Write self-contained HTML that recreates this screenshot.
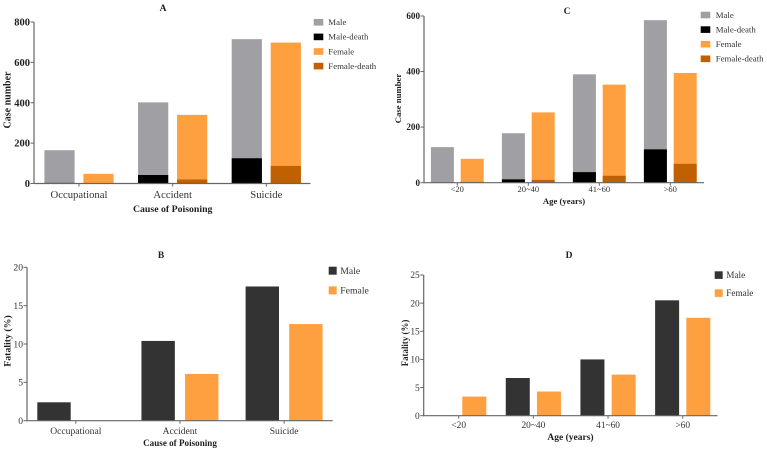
<!DOCTYPE html>
<html lang="en">
<head>
<meta charset="utf-8">
<title>Poisoning case numbers and fatality</title>
<style>
html,body{margin:0;padding:0;background:#fff;width:767px;height:452px;overflow:hidden}
#figure{display:block;filter:blur(0.35px)}
text{font-family:"Liberation Serif","Times New Roman",serif}
</style>
</head>
<body>
<svg id="figure" width="767" height="452" viewBox="0 0 767 452" xmlns="http://www.w3.org/2000/svg"></svg>
<script>
/* Panel A data */
const causeCategories = ['Occupational', 'Accident', 'Suicide'];
const causeCaseTicks = [0, 200, 400, 600, 800];
const causeMaleCases = [165, 402, 715];
const causeMaleDeaths = [3, 42, 125];
const causeFemaleCases = [48, 340, 698];
const causeFemaleDeaths = [1, 20, 87];

/* Panel B data */
const causeFatalityTicks = [0, 5, 10, 15, 20];
const causeMaleFatality = [2.4, 10.4, 17.5];
const causeFemaleFatality = [0, 6.1, 12.6];

/* Panel C data */
const ageCategories = ['<20', '20~40', '41~60', '>60'];
const ageCaseTicks = [0, 200, 400, 600];
const ageMaleCases = [128, 178, 390, 585];
const ageMaleDeaths = [1, 12, 38, 120];
const ageFemaleCases = [86, 253, 353, 395];
const ageFemaleDeaths = [3, 10, 25, 68];

/* Panel D data */
const ageFatalityTicks = [0, 5, 10, 15, 20, 25];
const ageMaleFatality = [0, 6.7, 10, 20.5];
const ageFemaleFatality = [3.4, 4.3, 7.3, 17.4];

const stackedLegend = ['Male', 'Male-death', 'Female', 'Female-death'];
const simpleLegend = ['Male', 'Female'];

const GREY = '#a09fa4', BLACK = '#000000', ORANGE = '#ffa040', BURNT = '#c06000', DARK = '#333333';
const AXIS = '#666666', INK = '#1f1f1f';
const svg = document.getElementById('figure');

function make(tag, attrs, parent, content) {
  const el = document.createElementNS('http://www.w3.org/2000/svg', tag);
  for (const k in attrs) el.setAttribute(k, attrs[k]);
  if (content !== undefined) el.textContent = content;
  parent.appendChild(el);
  return el;
}
function slug(s) {
  return String(s).toLowerCase().replace(/[^a-z0-9]+/g, '-').replace(/^-|-$/g, '');
}
function linear(d0, d1, r0, r1) {
  return v => r0 + (v - d0) * (r1 - r0) / (d1 - d0);
}

function drawPanel(p) {
  const g = make('g', {}, svg);
  
  

  const yMax = p.ticks[p.ticks.length - 1];
  const y = linear(0, yMax, p.y0, p.yTop);
  const x = i => p.xFirst + i * p.step;

  const title = make('text', {x: p.titleX, y: p.titleY, 'font-size': 9.5, 'font-weight': 'bold', 'text-anchor': 'middle', fill: INK}, g, p.id.toUpperCase());
  
  

  /* bars */
  p.categories.forEach((cat, i) => {
    p.series.forEach((s, si) => {
      const cx = x(i) + (si === 0 ? -p.offset : p.offset);
      const top = y(s.values[i]);
      const bar = make('rect', {x: cx - p.barW / 2, y: top, width: p.barW, height: p.y0 - top, fill: s.color}, g);
      
      
      if (s.deaths) {
        const dTop = y(s.deaths[i]);
        const death = make('rect', {x: cx - p.barW / 2, y: dTop, width: p.barW, height: p.y0 - dTop, fill: s.deathColor}, g);
        
        
      }
    });
  });

  /* axes */
  const yAxis = make('line', {x1: p.xAxis, x2: p.xAxis, y1: p.yTop, y2: p.y0 + 0.5, stroke: AXIS, 'stroke-width': 1.2}, g);
  
  
  const xAxis = make('line', {x1: p.xAxis, x2: p.xEnd, y1: p.y0, y2: p.y0, stroke: AXIS, 'stroke-width': 1.2}, g);
  
  

  p.ticks.forEach(t => {
    const tick = make('line', {x1: p.xAxis - 3.5, x2: p.xAxis, y1: y(t), y2: y(t), stroke: AXIS, 'stroke-width': 1}, g);
    
    
    const lab = make('text', {x: p.xAxis - 4, y: y(t) + p.yTickSize * 0.34, 'font-size': p.yTickSize, 'font-weight': p.yTickWeight, 'text-anchor': 'end', fill: p.yTickFill}, g, t);
    
    
  });

  p.categories.forEach((cat, i) => {
    const tick = make('line', {x1: x(i), x2: x(i), y1: p.y0, y2: p.y0 + 3, stroke: AXIS, 'stroke-width': 1}, g);
    
    
    const lab = make('text', {x: x(i) + p.catShift, y: p.catY, 'font-size': p.catSize, 'text-anchor': 'middle', fill: '#333333'}, g, cat);
    
    
  });

  const xt = make('text', {x: p.xTitleX, y: p.xTitleY, 'font-size': p.xTitleSize, 'font-weight': 'bold', 'text-anchor': 'middle', fill: INK}, g, p.xTitle);
  
  
  const yt = make('text', {transform: 'translate(' + p.yTitleX + ',' + p.yTitleY + ') rotate(-90)', 'font-size': p.yTitleSize, 'font-weight': 'bold', 'text-anchor': 'middle', fill: INK}, g, p.yTitle);
  
  

  /* legend */
  p.legend.forEach((name, i) => {
    const top = p.legY + i * p.legStep;
    const sw = make('rect', {x: p.legX, y: top, width: p.legW, height: p.legH, fill: p.legColors[i]}, g);
    
    
    const tx = make('text', {x: p.legTextX, y: top + p.legH / 2 + p.legSize * 0.32, 'font-size': p.legSize, fill: '#333333'}, g, name);
    
    
  });
}

drawPanel({
  id: 'a', categories: causeCategories, ticks: causeCaseTicks,
  series: [
    {name: 'male', values: causeMaleCases, deaths: causeMaleDeaths, color: GREY, deathColor: BLACK},
    {name: 'female', values: causeFemaleCases, deaths: causeFemaleDeaths, color: ORANGE, deathColor: BURNT}
  ],
  y0: 183.5, yTop: 22, xAxis: 34, xEnd: 310.5, xFirst: 79, step: 93.65, offset: 19.5, barW: 30.2,
  titleX: 163, titleY: 11, yTickSize: 10.5, yTickWeight: 'bold', yTickFill: INK,
  catY: 198, catSize: 10.7, catShift: 0, xTitle: 'Cause of Poisoning', xTitleX: 172.7, xTitleY: 212, xTitleSize: 9.8,
  yTitle: 'Case number', yTitleX: 10.5, yTitleY: 100, yTitleSize: 10,
  legend: stackedLegend, legColors: [GREY, BLACK, ORANGE, BURNT],
  legX: 313.7, legY: 19, legW: 9.6, legH: 6.6, legStep: 14.6, legTextX: 328.3, legSize: 8.8
});

drawPanel({
  id: 'b', categories: causeCategories, ticks: causeFatalityTicks,
  series: [
    {name: 'male', values: causeMaleFatality, color: DARK},
    {name: 'female', values: causeFemaleFatality, color: ORANGE}
  ],
  y0: 420.7, yTop: 267.3, xAxis: 27, xEnd: 332.7, xFirst: 75.8, step: 104.15, offset: 21.8, barW: 33.4,
  titleX: 161, titleY: 258, yTickSize: 9.6, yTickWeight: 'normal', yTickFill: '#333333',
  catY: 434, catSize: 9.6, catShift: 0, xTitle: 'Cause of Poisoning', xTitleX: 180, xTitleY: 446, xTitleSize: 9.1,
  yTitle: 'Fatality (%)', yTitleX: 10.5, yTitleY: 341, yTitleSize: 9.8,
  legend: simpleLegend, legColors: [DARK, ORANGE],
  legX: 328.7, legY: 266.7, legW: 8, legH: 8, legStep: 19.7, legTextX: 340.3, legSize: 9.7
});

drawPanel({
  id: 'c', categories: ageCategories, ticks: ageCaseTicks,
  series: [
    {name: 'male', values: ageMaleCases, deaths: ageMaleDeaths, color: GREY, deathColor: BLACK},
    {name: 'female', values: ageFemaleCases, deaths: ageFemaleDeaths, color: ORANGE, deathColor: BURNT}
  ],
  y0: 182.7, yTop: 16, xAxis: 424, xEnd: 704, xFirst: 457.3, step: 71, offset: 14.9, barW: 23,
  titleX: 567, titleY: 14, yTickSize: 9.1, yTickWeight: 'bold', yTickFill: INK,
  catY: 192, catSize: 8.5, catShift: 0, xTitle: 'Age (years)', xTitleX: 564, xTitleY: 204, xTitleSize: 8.7,
  yTitle: 'Case number', yTitleX: 401, yTitleY: 98.5, yTitleSize: 8.7,
  legend: stackedLegend, legColors: [GREY, BLACK, ORANGE, BURNT],
  legX: 700.7, legY: 11.7, legW: 9.6, legH: 6.6, legStep: 14.6, legTextX: 715.7, legSize: 8.8
});

drawPanel({
  id: 'd', categories: ageCategories, ticks: ageFatalityTicks,
  series: [
    {name: 'male', values: ageMaleFatality, color: DARK},
    {name: 'female', values: ageFemaleFatality, color: ORANGE}
  ],
  y0: 415.7, yTop: 275, xAxis: 423.7, xEnd: 717.5, xFirst: 458.7, step: 74.67, offset: 15.6, barW: 24,
  titleX: 569, titleY: 258, yTickSize: 9.4, yTickWeight: 'normal', yTickFill: '#333333',
  catY: 428, catSize: 9.4, catShift: 0, xTitle: 'Age (years)', xTitleX: 570.5, xTitleY: 440, xTitleSize: 9.5,
  yTitle: 'Fatality (%)', yTitleX: 408, yTitleY: 343, yTitleSize: 8.9,
  legend: simpleLegend, legColors: [DARK, ORANGE],
  legX: 714.7, legY: 271.3, legW: 8, legH: 7.6, legStep: 18, legTextX: 726.3, legSize: 9.2
});
</script>
</body>
</html>
